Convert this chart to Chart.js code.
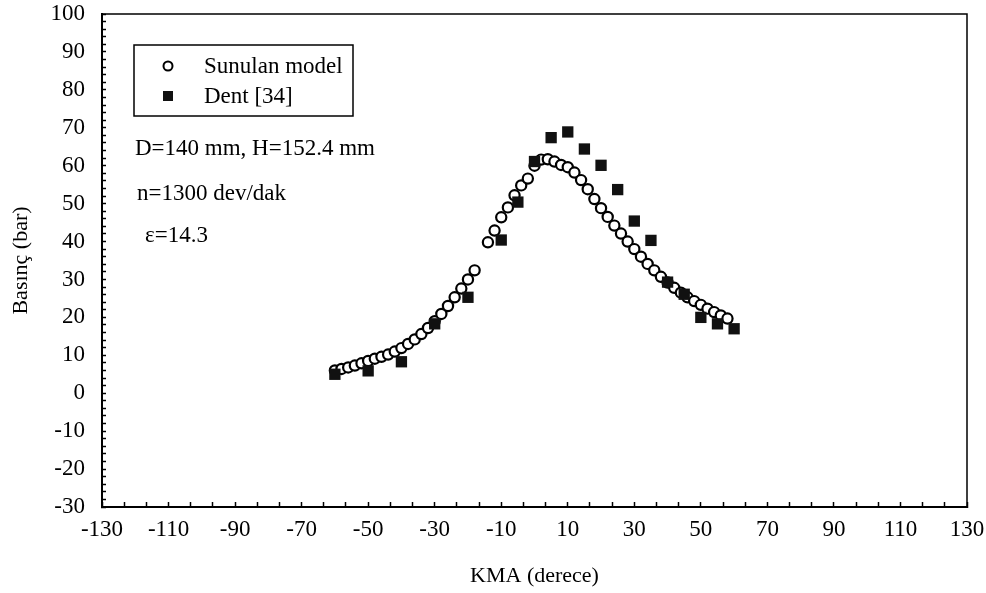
<!DOCTYPE html>
<html>
<head>
<meta charset="utf-8">
<script src="https://cdn.jsdelivr.net/npm/chart.js@4"></script>
<style>
  html, body { margin: 0; padding: 0; background: #fff; }
  #wrap { width: 986px; height: 593px; }
</style>
</head>
<body>
<div id="wrap"><canvas id="pressureChart" width="986" height="593"></canvas></div>
<script>
// crank angle (deg) and cylinder pressure (bar)
const modelAngles = [
  -60, -58, -56, -54, -52, -50, -48, -46, -44, -42, -40, -38, -36, -34, -32, -30, -28, -26, -24, -22, -20, -18,
  -14, -12, -10, -8, -6, -4, -2, 0, 2, 4, 6, 8, 10, 12, 14, 16, 18, 20, 22, 24, 26, 28, 30,
  32, 34, 36, 38, 40, 42, 44, 46, 48, 50, 52, 54, 56, 58
];
const modelPressure = [
  6.0, 6.4, 6.8, 7.3, 7.9, 8.5, 9.1, 9.6, 10.2, 11.0, 11.9, 13.0, 14.2, 15.6, 17.2, 19.0, 20.9, 23.0, 25.3, 27.6, 30.0, 32.4,
  39.8, 42.9, 46.4, 49.0, 52.2, 54.8, 56.6, 60.0, 61.6, 61.7, 61.1, 60.2, 59.6, 58.2, 56.2, 53.8, 51.2, 48.8, 46.5, 44.2, 42.1, 40.0, 38.0,
  36.0, 34.1, 32.4, 30.7, 29.2, 27.8, 26.5, 25.3, 24.3, 23.3, 22.3, 21.4, 20.5, 19.7
];
const dentAngles = [-60, -50, -40, -30, -20, -10, -5, 0, 5, 10, 15, 20, 25, 30, 35, 40, 45, 50, 55, 60];
const dentPressure = [5.0, 5.9, 8.3, 18.3, 25.3, 40.4, 50.4, 61.1, 67.4, 68.9, 64.4, 60.1, 53.7, 45.4, 40.3, 29.3, 26.1, 20.0, 18.3, 17.0];

const seriesLabels = ['Sunulan model', 'Dent [34]'];
const infoLines = ['D=140 mm, H=152.4 mm', 'n=1300 dev/dak', 'ε=14.3'];

const serif = 'Liberation Serif';
const toPoints = (xs, ys) => xs.map((x, i) => ({ x: x, y: ys[i] }));

// frame on the top/right edges plus the boxed legend and engine data text
const framePlugin = {
    id: 'frame',
    afterDraw(chart) {
        const { ctx, chartArea } = chart;
        ctx.save();
        ctx.strokeStyle = '#000';
        ctx.lineWidth = 1.5;
        ctx.beginPath();
        ctx.moveTo(chartArea.left, chartArea.top);
        ctx.lineTo(chartArea.right, chartArea.top);
        ctx.lineTo(chartArea.right, chartArea.bottom);
        ctx.stroke();

        const bx = chartArea.left + 32, by = chartArea.top + 31;
        ctx.lineWidth = 1.5;
        ctx.strokeRect(bx, by, 219, 71);

        ctx.fillStyle = '#fff';
        ctx.lineWidth = 2;
        ctx.beginPath();
        ctx.arc(bx + 34, by + 21, 4.5, 0, Math.PI * 2);
        ctx.fill();
        ctx.stroke();
        ctx.fillStyle = '#111';
        ctx.fillRect(bx + 29, by + 46, 10, 10);

        ctx.fillStyle = '#000';
        ctx.font = '23px "' + serif + '"';
        ctx.textAlign = 'left';
        ctx.textBaseline = 'alphabetic';
        ctx.fillText(seriesLabels[0], bx + 70, by + 28);
        ctx.fillText(seriesLabels[1], bx + 70, by + 58);

        ctx.fillText(infoLines[0], chartArea.left + 33, chartArea.top + 141);
        ctx.fillText(infoLines[1], chartArea.left + 35, chartArea.top + 186);
        ctx.fillText(infoLines[2], chartArea.left + 43, chartArea.top + 228);
        ctx.restore();
    }
};

const ctx = document.getElementById('pressureChart').getContext('2d');
const pressureChart = new Chart(ctx, {
    type: 'scatter',
    data: {
        datasets: [
            {
                label: seriesLabels[1],
                data: toPoints(dentAngles, dentPressure),
                pointStyle: 'rect',
                pointRadius: 8,
                backgroundColor: '#111',
                borderColor: '#111',
                borderWidth: 0,
            },
            {
                label: seriesLabels[0],
                data: toPoints(modelAngles, modelPressure),
                pointStyle: 'circle',
                pointRadius: 5.1,
                backgroundColor: '#fff',
                borderColor: '#000',
                borderWidth: 2.2,
            }
        ]
    },
    options: {
        responsive: false,
        animation: false,
        devicePixelRatio: 1,
        layout: { padding: { top: 14, right: 19, left: 0, bottom: 0 } },
        plugins: {
            legend: { display: false },
            tooltip: { enabled: false }
        },
        scales: {
            x: {
                type: 'linear',
                position: 'bottom',
                min: -130,
                max: 130,
                afterFit: (scale) => {
                    scale.height = 86;
                    scale.paddingLeft = 0;
                    scale.paddingRight = 0;
                },
                ticks: {
                    stepSize: 20 / 3,
                    autoSkip: false,
                    maxRotation: 0,
                    padding: 14,
                    color: '#000',
                    font: { family: serif, size: 23 },
                    callback: (value, index) => index % 3 === 0 ? String(Math.round(value)) : ''
                },
                grid: {
                    drawOnChartArea: false,
                    drawTicks: true,
                    tickLength: -5,
                    tickColor: '#000',
                    tickWidth: 1.5
                },
                border: { color: '#000', width: 2 },
                title: {
                    display: true,
                    text: 'KMA (derece)',
                    color: '#000',
                    font: { family: serif, size: 22 },
                    padding: { top: 0, bottom: 4 }
                }
            },
            y: {
                type: 'linear',
                min: -30,
                max: 100,
                afterFit: (scale) => {
                    scale.width = 102;
                    scale.paddingTop = 0;
                    scale.paddingBottom = 0;
                },
                ticks: {
                    stepSize: 2,
                    autoSkip: false,
                    padding: 21,
                    color: '#000',
                    font: { family: serif, size: 23 },
                    callback: (value) => value % 10 === 0 ? String(value) : ''
                },
                grid: {
                    drawOnChartArea: false,
                    drawTicks: true,
                    tickLength: -4,
                    tickColor: '#000',
                    tickWidth: 1.5
                },
                border: { color: '#000', width: 2 },
                title: {
                    display: true,
                    text: 'Basınç (bar)',
                    color: '#000',
                    font: { family: serif, size: 22 },
                    padding: { top: 8, bottom: 0 }
                }
            }
        }
    },
    plugins: [framePlugin]
});
</script>
</body>
</html>
